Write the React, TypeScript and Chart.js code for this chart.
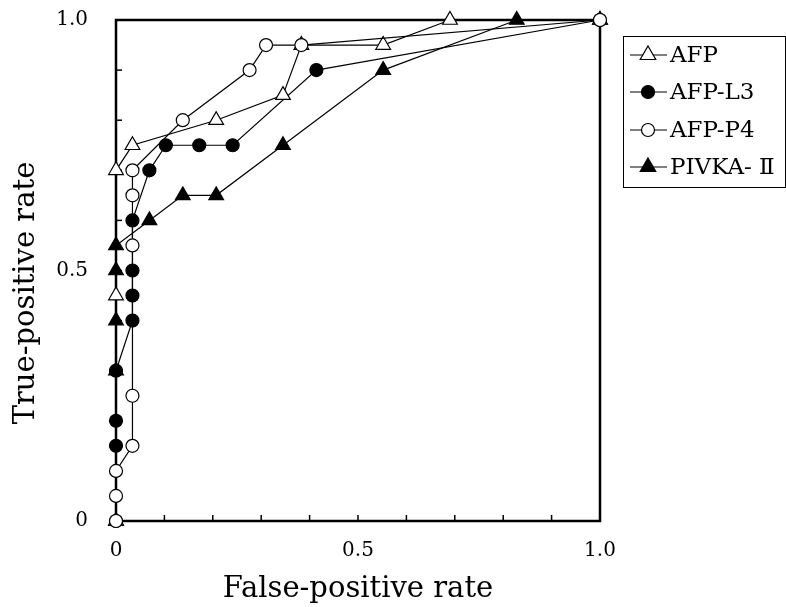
import React, { useEffect, useRef } from "react";
import { Chart, registerables } from "chart.js";

Chart.register(...registerables);

const seriesNames = ["AFP", "AFP-L3", "AFP-P4", "PIVKA- \u2161"];

const afpX = [0, 0, 0, 0.034, 0.207, 0.345, 0.383, 0.552, 0.69, 1.0];
const afpY = [0, 0.45, 0.7, 0.75, 0.8, 0.85, 0.95, 0.95, 1.0, 1.0];

const l3X = [0, 0, 0, 0, 0.034, 0.034, 0.034, 0.034, 0.069, 0.103, 0.172, 0.241, 0.414, 1.0];
const l3Y = [0, 0.15, 0.2, 0.3, 0.4, 0.45, 0.5, 0.6, 0.7, 0.75, 0.75, 0.75, 0.9, 1.0];

const p4X = [0, 0, 0, 0.034, 0.034, 0.034, 0.034, 0.034, 0.138, 0.276, 0.31, 0.383, 1.0];
const p4Y = [0, 0.05, 0.1, 0.15, 0.25, 0.55, 0.65, 0.7, 0.8, 0.9, 0.95, 0.95, 1.0];

const pivkaX = [0, 0, 0, 0, 0, 0.069, 0.138, 0.207, 0.345, 0.552, 0.828, 1.0];
const pivkaY = [0, 0.3, 0.4, 0.5, 0.55, 0.6, 0.65, 0.65, 0.75, 0.9, 1.0, 1.0];

const xTickLabels: Record<string, string> = { "0": "0", "0.5": "0.5", "1": "1.0" };
const yTickLabels: Record<string, string> = { "0": "0", "0.5": "0.5", "1": "1.0" };

const xTitle = "False-positive rate";
const yTitle = "True-positive rate";

const SERIF = "'DejaVu Serif', serif";

const toPts = (xs: number[], ys: number[]) => xs.map((x, i) => ({ x, y: ys[i] }));

const labelFor = (map: Record<string, string>, v: number) => {
  const k = String(Math.round(v * 10) / 10);
  return map[k] !== undefined ? map[k] : "";
};

function drawMarker(ctx: CanvasRenderingContext2D, style: string, x: number, y: number, r: number, fill: string) {
  ctx.beginPath();
  if (style === "triangle") {
    ctx.moveTo(x, y - r);
    ctx.lineTo(x + r * Math.sin((2 * Math.PI) / 3), y - r * Math.cos((2 * Math.PI) / 3));
    ctx.lineTo(x + r * Math.sin((4 * Math.PI) / 3), y - r * Math.cos((4 * Math.PI) / 3));
    ctx.closePath();
  } else {
    ctx.arc(x, y, r, 0, Math.PI * 2);
  }
  ctx.fillStyle = fill;
  ctx.fill();
  ctx.lineWidth = 1.2;
  ctx.strokeStyle = "#000";
  ctx.stroke();
}

const framePlugin = {
  id: "framePlugin",
  beforeDatasetsDraw(chart: any) {
    const { ctx, chartArea: a, scales } = chart;
    ctx.save();
    ctx.strokeStyle = "#000";
    ctx.lineWidth = 2.5;
    ctx.strokeRect(a.left, a.top, a.right - a.left, a.bottom - a.top);
    ctx.lineWidth = 1.5;
    for (let i = 1; i < 10; i++) {
      const v = i / 10;
      const px = scales.x.getPixelForValue(v);
      ctx.beginPath();
      ctx.moveTo(px, a.bottom);
      ctx.lineTo(px, a.bottom - 6);
      ctx.stroke();
      const py = scales.y.getPixelForValue(v);
      ctx.beginPath();
      ctx.moveTo(a.left, py);
      ctx.lineTo(a.left + 6, py);
      ctx.stroke();
    }
    // y-axis title
    ctx.fillStyle = "#000";
    ctx.font = "29px " + SERIF;
    ctx.textAlign = "center";
    ctx.textBaseline = "middle";
    ctx.translate(26, 293);
    ctx.rotate(-Math.PI / 2);
    ctx.fillText(yTitle, 0, 0);
    ctx.restore();
  },
  afterDraw(chart: any) {
    const { ctx } = chart;
    ctx.save();
    const bx = 623, by = 36, bw = 162, bh = 151;
    ctx.strokeStyle = "#000";
    ctx.lineWidth = 1;
    ctx.strokeRect(bx + 0.5, by + 0.5, bw, bh);
    const rows = [55, 92, 130, 167];
    seriesNames.forEach((name, i) => {
      const ds = chart.data.datasets.find((d: any) => d.label === name);
      const y = rows[i];
      ctx.beginPath();
      ctx.strokeStyle = "#000";
      ctx.lineWidth = 1.2;
      ctx.moveTo(630, y);
      ctx.lineTo(667, y);
      ctx.stroke();
      drawMarker(ctx, ds.pointStyle, 648, y, ds.pointStyle === "triangle" ? 9 : 6.5, ds.pointBackgroundColor);
      ctx.fillStyle = "#000";
      ctx.font = "23px " + SERIF;
      ctx.textBaseline = "middle";
      ctx.textAlign = "left";
      ctx.fillText(name, 670, y + 1);
    });
    ctx.restore();
  },
};

export default function App() {
  const ref = useRef<HTMLCanvasElement>(null);
  useEffect(() => {
    document.body.style.margin = "0";
    const mk = (label: string, data: any, style: string, fill: string, r: number) => ({
      label,
      data,
      pointStyle: style,
      pointBackgroundColor: fill,
      pointBorderColor: "#000",
      pointBorderWidth: 1.2,
      pointRadius: r,
      borderColor: "#000",
      borderWidth: 1.2,
      tension: 0,
      fill: false,
      clip: false as any,
    });
    const chart = new Chart(ref.current!, {
      type: "line",
      data: {
        datasets: [
          { ...mk(seriesNames[2], toPts(p4X, p4Y), "circle", "#fff", 6.5), order: 1 },
          { ...mk(seriesNames[0], toPts(afpX, afpY), "triangle", "#fff", 8.5), order: 2 },
          { ...mk(seriesNames[1], toPts(l3X, l3Y), "circle", "#000", 6.5), order: 3 },
          { ...mk(seriesNames[3], toPts(pivkaX, pivkaY), "triangle", "#000", 8.5), order: 4 },
        ],
      },
      options: {
        animation: false,
        responsive: false,
        layout: { autoPadding: false, padding: { left: 0, top: 20, right: 186, bottom: 0 } } as any,
        plugins: { legend: { display: false }, tooltip: { enabled: false } },
        scales: {
          x: {
            type: "linear",
            min: 0,
            max: 1,
            grid: { display: false, tickLength: 18 },
            border: { display: false },
            ticks: {
              stepSize: 0.1,
              autoSkip: false,
              maxRotation: 0,
              padding: 0,
              color: "#000",
              font: { family: SERIF, size: 20 },
              callback: (v: any) => labelFor(xTickLabels, Number(v)),
            },
            title: {
              display: true,
              text: xTitle,
              color: "#000",
              font: { family: SERIF, size: 29 },
              padding: { top: 0, bottom: 0 },
            },
            afterFit: (s: any) => {
              s.height = 86;
            },
          },
          y: {
            type: "linear",
            min: 0,
            max: 1,
            grid: { display: false, tickLength: 28 },
            border: { display: false },
            ticks: {
              stepSize: 0.1,
              autoSkip: false,
              padding: 0,
              color: "#000",
              font: { family: SERIF, size: 20 },
              callback: (v: any) => labelFor(yTickLabels, Number(v)),
            },
            title: { display: false },
            afterFit: (s: any) => {
              s.width = 116;
            },
          },
        },
      },
      plugins: [framePlugin],
    });
    return () => chart.destroy();
  }, []);
  return (
    <div style={{ position: "absolute", left: 0, top: 0, width: 786, height: 607, background: "#fff" }}>
      <canvas ref={ref} width={786} height={607} />
    </div>
  );
}
